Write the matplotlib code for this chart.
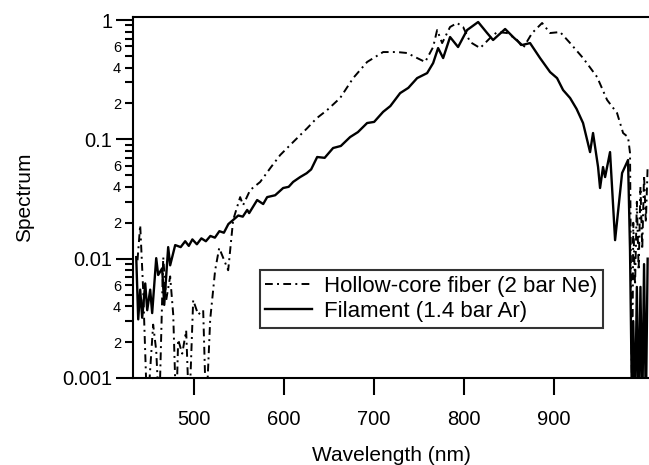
import numpy as np
import matplotlib
matplotlib.use("Agg")
import matplotlib.pyplot as plt
from matplotlib.ticker import LogLocator, FuncFormatter

plt.rcParams['font.family'] = ['Liberation Sans', 'DejaVu Sans']

# ---------------- data ----------------
# Filament (1.4 bar Ar), solid
fil_wl = [435.6, 437.8, 440, 442.2, 445.6, 447.8, 451.1, 453.3, 457.8, 460,
          464.4, 466.7, 471.1, 473.3, 478.9, 485, 490, 494, 498, 503,
          508, 513, 518, 523, 528, 533, 538, 543.3, 549, 554,
          558.9, 561.1, 570, 576.7, 581.1, 590, 598.9, 605, 610, 617.8,
          625, 630, 636.7, 645, 654.4, 663, 673.3, 682, 692.2, 700,
          710, 718, 728.9, 738, 747.8, 758.9, 765.6, 771.1, 776.7, 784.4,
          793.3, 803.3, 815.6, 825.6, 832.2, 845.6, 855.6, 864.4, 873.3, 884.4,
          895.6, 903.3, 910, 917.8, 925, 932.2, 940, 943.3, 948.9, 951.1,
          954.4, 956.7, 962.2, 967.8, 975.6, 982.2, 984.4, 986.7, 988, 990,
          992, 994, 996, 998, 1000, 1002, 1004]
fil_val = [0.0103, 0.0031, 0.0055, 0.0032, 0.0062, 0.0037, 0.0055, 0.0035, 0.0101, 0.0073,
           0.0083, 0.0041, 0.0125, 0.0088, 0.0130, 0.0125, 0.0140, 0.0128, 0.0145, 0.0132,
           0.0148, 0.0140, 0.0155, 0.0150, 0.0170, 0.0165, 0.0195, 0.0211, 0.0230, 0.0225,
           0.0256, 0.0241, 0.0310, 0.0287, 0.0328, 0.0340, 0.0391, 0.0400, 0.0440, 0.0483,
           0.0520, 0.0560, 0.0711, 0.0700, 0.0846, 0.0880, 0.1045, 0.1150, 0.137, 0.140,
           0.170, 0.190, 0.244, 0.270, 0.326, 0.359, 0.436, 0.582, 0.480, 0.720,
           0.594, 0.824, 0.962, 0.778, 0.680, 0.841, 0.707, 0.617, 0.641, 0.480,
           0.366, 0.326, 0.259, 0.222, 0.180, 0.137, 0.0782, 0.113, 0.0586, 0.0391,
           0.0586, 0.0483, 0.0782, 0.0143, 0.0522, 0.0671, 0.0118, 0.0005, 0.0030, 0.0005,
           0.0058, 0.0005, 0.0058, 0.0005, 0.0090, 0.0005, 0.0100]

# Hollow-core fiber (2 bar Ne), dash-dot
hcf_wl = [437, 440, 443.3, 447.8, 454.4, 457.8, 461.1, 465.6, 468.9, 473.3,
          476.7, 480, 482.2, 486.7, 491.1, 494.4, 498.9, 504.4, 510, 513.3,
          517.8, 523.3, 527.8, 537.8, 543.3, 551.1, 554.4, 562.2, 573.3, 585,
          595.6, 610, 625.6, 636, 647.8, 662.2, 676.7, 692.2, 710, 725.6,
          736.7, 747.8, 756.7, 765.6, 770, 775.6, 784.4, 792.2, 798.9, 806.7,
          817.8, 828.9, 836.7, 847.8, 858.9, 865.6, 875.6, 886.7, 895.6, 906.7,
          917.8, 932.2, 947.8, 958.9, 970, 976.7, 982.2, 984.4, 986.7, 988,
          990, 992, 994, 996, 998, 1000, 1002, 1004]
hcf_val = [0.0097, 0.0191, 0.0055, 0.0005, 0.0028, 0.0017, 0.0005, 0.0103, 0.0045, 0.0071,
           0.0034, 0.0005, 0.0021, 0.0016, 0.0025, 0.0005, 0.0045, 0.0034, 0.0037, 0.0005,
           0.0031, 0.0080, 0.0123, 0.0080, 0.0211, 0.0328, 0.0281, 0.0376, 0.0439, 0.0580,
           0.0739, 0.0949, 0.124, 0.150, 0.176, 0.222, 0.326, 0.445, 0.539, 0.539,
           0.529, 0.480, 0.445, 0.594, 0.824, 0.641, 0.874, 0.944, 0.874, 0.654,
           0.582, 0.707, 0.793, 0.778, 0.680, 0.582, 0.778, 0.944, 0.778, 0.793,
           0.641, 0.480, 0.333, 0.214, 0.166, 0.113, 0.1045, 0.0768, 0.0005, 0.020,
           0.006, 0.030, 0.008, 0.040, 0.012, 0.050, 0.020, 0.060]

x_ticks = [500, 600, 700, 800, 900]
y_major = [0.001, 0.01, 0.1, 1]
y_major_labels = ['0.001', '0.01', '0.1', '1']

# ---------------- plot ----------------
fig = plt.figure(figsize=(6.49, 4.65), dpi=100)
ax = fig.add_axes([133 / 649, 1 - 378 / 465, 516 / 649, 361 / 465])

ax.plot(hcf_wl, hcf_val, color='black', lw=1.4, ls=(0, (4, 2.2, 1, 2.2)),
        label='Hollow-core fiber (2 bar Ne)')
ax.plot(fil_wl, fil_val, color='black', lw=1.7, ls='-',
        label='Filament (1.4 bar Ar)')

ax.set_yscale('log')
ax.set_xlim(432, 1005.5)
ax.set_ylim(0.001, 1.06)

ax.set_xticks(x_ticks)
ax.set_yticks(y_major)
ax.set_yticklabels(y_major_labels)
ax.yaxis.set_minor_locator(LogLocator(base=10, subs=np.arange(2, 10)))


def minor_fmt(v, pos):
    m = v / 10 ** np.floor(np.log10(v) + 1e-9)
    k = int(round(m))
    return str(k) if k in (2, 4, 6) else ''


ax.yaxis.set_minor_formatter(FuncFormatter(minor_fmt))

ax.tick_params(axis='y', which='major', direction='out', length=12, width=1.5,
               labelsize=14.5, pad=3)
ax.tick_params(axis='y', which='minor', direction='out', length=5.5, width=1.5,
               labelsize=10.5, pad=3)
ax.tick_params(axis='x', which='major', direction='out', length=12, width=1.5,
               labelsize=14.5, pad=11)
ax.tick_params(axis='x', which='minor', bottom=False)

for s in ['left', 'bottom', 'top']:
    ax.spines[s].set_linewidth(1.5)
ax.spines['right'].set_visible(False)

ax.set_xlabel('Wavelength (nm)', fontsize=15, labelpad=12)
ax.set_ylabel('Spectrum', fontsize=15, labelpad=20)

leg = ax.legend(loc='upper left', bbox_to_anchor=(0.246, 0.299), fontsize=16,
                frameon=True, fancybox=False, edgecolor='black',
                handlelength=2.1, borderpad=0.25, labelspacing=0.2,
                handletextpad=0.55, borderaxespad=0)
leg.get_frame().set_linewidth(1.5)

fig.savefig('out.png', dpi=100)
